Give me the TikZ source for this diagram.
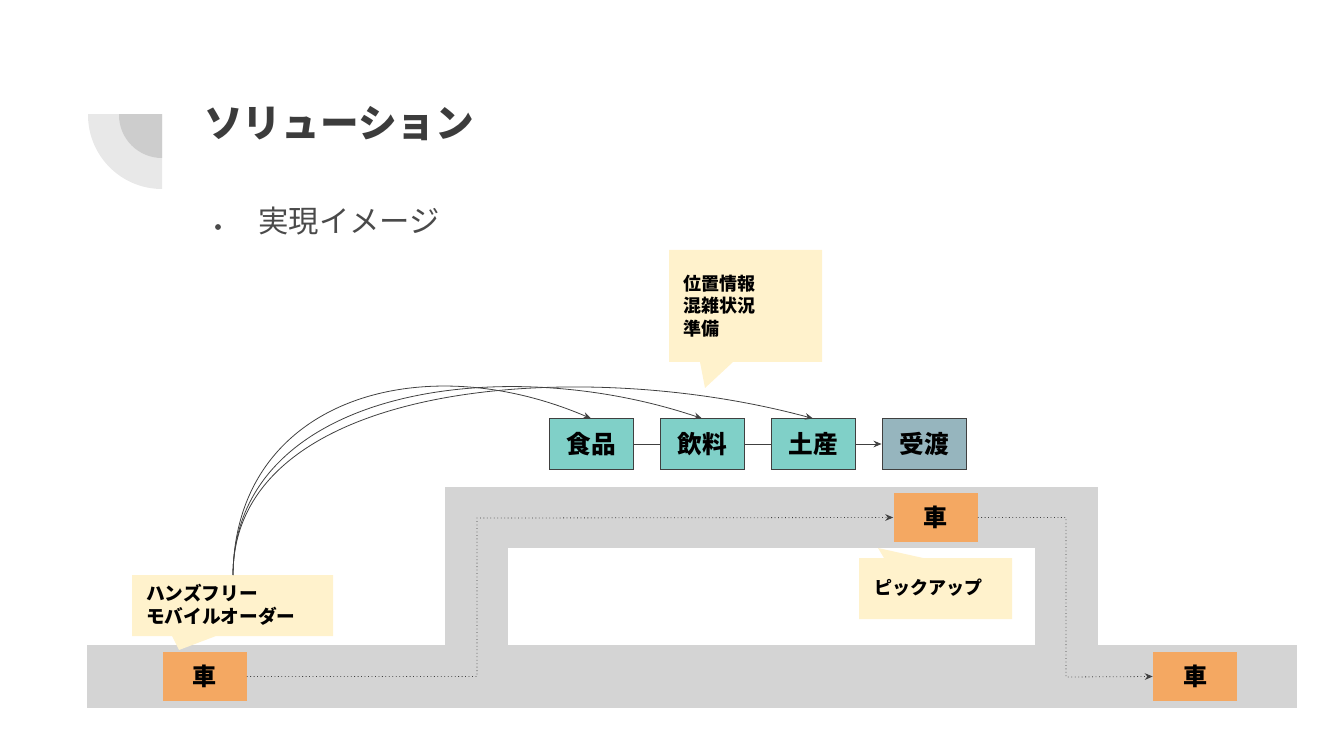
\documentclass[tikz,border=0pt]{standalone}
\usepackage{fontspec}
\newfontfamily\jp{Noto Sans CJK JP}
\usetikzlibrary{arrows.meta}
\definecolor{decolight}{HTML}{E8E8E8}
\definecolor{decodark}{HTML}{CDCDCD}
\definecolor{titlegray}{HTML}{3C3C3C}
\definecolor{subgray}{HTML}{4A4A4A}
\definecolor{teal}{HTML}{80D0C8}
\definecolor{bluegray}{HTML}{96B5BE}
\definecolor{carorange}{HTML}{F4A862}
\definecolor{note}{HTML}{FFF2CC}
\definecolor{road}{HTML}{D4D4D4}
\definecolor{linegray}{HTML}{404040}
\begin{document}
\begin{tikzpicture}[x=0.75pt,y=-0.75pt,
  stepbox/.style={draw=linegray,line width=0.75pt,fill=teal,minimum width=63pt,minimum height=37.5pt,inner sep=0pt,font=\jp\bfseries\fontsize{18.5}{20}\selectfont},
  carbox/.style={fill=carorange,minimum width=63pt,minimum height=37pt,inner sep=0pt,font=\jp\bfseries\fontsize{18}{20}\selectfont},
  notetext/.style={anchor=west,inner sep=0pt,align=left,font=\jp\bfseries\fontsize{13.5}{17}\selectfont},
  conn/.style={draw=linegray,line width=0.6pt},
  arr/.style={conn,-{Stealth[length=6pt,width=5pt]}},
  dotline/.style={draw=linegray,line width=0.6pt,dotted},
]
\useasboundingbox (0,0) rectangle (1328,748);
% decoration
\begin{scope}
  \clip (88,115) rectangle (162,189);
  \fill[decolight] (162,115) circle[radius=55.5pt];
  \fill[decodark] (162,115) circle[radius=32.25pt];
\end{scope}
% title
\node[anchor=west,inner sep=0pt,text=titlegray,font=\jp\bfseries\fontsize{29}{31}\selectfont] (title) at (204,124) {ソリューション};
\fill[subgray] (218,227) circle[radius=2.2pt];
\node[anchor=west,inner sep=0pt,text=subgray,font=\jp\fontsize{22.8}{24}\selectfont] (sub) at (258,221) {実現イメージ};
% road
\fill[road] (87,645) rectangle (1297,708);
\fill[road] (445,487) rectangle (1098,645);
\fill[white] (508,548) rectangle (1035,645);
% callouts
\fill[note] (669,250) -- (822,250) -- (822,362) -- (733,362) -- (705,388) -- (700,362) -- (669,362) -- cycle;
\node[notetext] (n1) at (683,306) {位置情報\\混雑状況\\準備};
\fill[note] (132,575) -- (333,575) -- (333,636) -- (216,636) -- (179,650) -- (172,636) -- (132,636) -- cycle;
\node[notetext,font=\jp\bfseries\fontsize{14}{17.3}\selectfont] (n2) at (146,604.5) {ハンズフリー\\モバイルオーダー};
\fill[note] (859,558) -- (884,558) -- (878,548) -- (923,558) -- (1012,558) -- (1012,619) -- (859,619) -- cycle;
\node[notetext] (n3) at (874,588) {ピックアップ};
% process boxes
\node[stepbox] (b1) at (591,444) {食品};
\node[stepbox] (b2) at (702,444) {飲料};
\node[stepbox] (b3) at (813,444) {土産};
\node[stepbox,fill=bluegray] (b4) at (924,444) {受渡};
\draw[conn] (b1) -- (b2);
\draw[conn] (b2) -- (b3);
\draw[arr] (b3) -- (b4);
% cars
\node[carbox] (car1) at (204.5,676.5) {車};
\node[carbox] (car2) at (935.5,517.5) {車};
\node[carbox] (car3) at (1195,676.5) {車};
\coordinate (bend1) at (477,518);
\coordinate (bend2) at (1066,677);
\draw[dotline,-{Stealth[length=6pt,width=5pt]}] (car1.east) -| (bend1) -- (car2.west);
\draw[dotline,-{Stealth[length=6pt,width=5pt]}] (car2.east) -| (bend2) -- (car3.west);
% curved arrows
\coordinate (src) at (233,575);
\draw[arr] (src) .. controls (235,400) and (420,345) .. (b1.north);
\draw[arr] (src) .. controls (234,390) and (500,350) .. (b2.north);
\draw[arr] (src) .. controls (233,380) and (580,355) .. (b3.north);
\end{tikzpicture}
\end{document}
